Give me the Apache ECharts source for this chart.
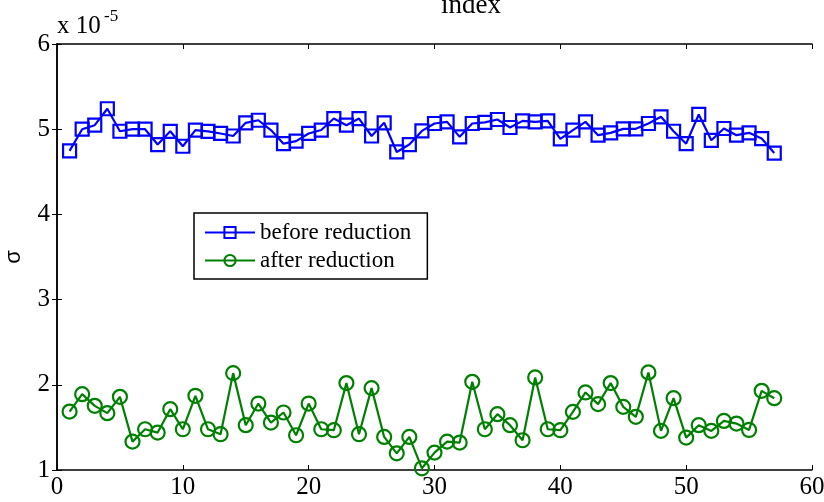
<!DOCTYPE html>
<html>
<head>
<meta charset="utf-8">
<script src="https://cdn.jsdelivr.net/npm/echarts@6/dist/echarts.min.js"></script>
<style>
  html, body { margin: 0; padding: 0; background: #fff; }
  #chart { width: 824px; height: 502px; }
</style>
</head>
<body>
<div id="chart"></div>
<script>
// Standard deviation per index, in units of 1e-5
const indices = Array.from({ length: 57 }, (_, i) => i + 1);

const beforeReduction = [
  4.745, 5.00, 5.047, 5.24, 4.976, 5.00, 5.00, 4.82, 4.975, 4.80,
  4.99, 4.975, 4.95, 4.92, 5.075, 5.105, 4.99, 4.83, 4.86, 4.95,
  4.99, 5.125, 5.047, 5.125, 4.92, 5.075, 4.733, 4.82, 4.98, 5.067,
  5.086, 4.91, 5.067, 5.08, 5.114, 5.02, 5.098, 5.086, 5.098, 4.886,
  4.99, 5.086, 4.93, 4.957, 5.004, 5.004, 5.067, 5.145, 4.976, 4.83,
  5.173, 4.87, 5.008, 4.93, 4.957, 4.89, 4.72
];

const afterReduction = [
  1.686, 1.89, 1.753, 1.667, 1.859, 1.333, 1.478, 1.439, 1.714, 1.478,
  1.871, 1.478, 1.42, 2.137, 1.526, 1.78, 1.557, 1.675, 1.408, 1.78,
  1.478, 1.467, 2.02, 1.42, 1.961, 1.388, 1.196, 1.388, 1.02, 1.204,
  1.333, 1.322, 2.035, 1.478, 1.655, 1.526, 1.349, 2.086, 1.478, 1.467,
  1.682, 1.91, 1.773, 2.02, 1.741, 1.624, 2.145, 1.459, 1.843, 1.38,
  1.526, 1.459, 1.576, 1.545, 1.47, 1.929, 1.843
];

const xTicks = { min: 0, max: 60, interval: 10 };
const yTicks = { min: 1, max: 6, interval: 1 };

const serif = '"Liberation Serif", "Times New Roman", serif';
const BLUE = '#0000ff';
const GREEN = '#008000';

const chart = echarts.init(document.getElementById('chart'), null, { renderer: 'canvas' });

const pairs = arr => arr.map((v, i) => [indices[i], v]);

const axisLineStyle = { show: true, lineStyle: { color: '#000', width: 1.5 } };
const tickIn = { show: true, inside: true, length: 5, lineStyle: { color: '#000', width: 1 } };

chart.setOption({
  animation: false,
  backgroundColor: '#fff',
  grid: { left: 57, right: 12, top: 44, bottom: 32, containLabel: false, outerBoundsMode: 'none' },
  xAxis: [
    {
      type: 'value', min: xTicks.min, max: xTicks.max, interval: xTicks.interval,
      position: 'bottom',
      axisLine: axisLineStyle, axisTick: tickIn, splitLine: { show: false },
      axisLabel: { color: '#000', fontFamily: serif, fontSize: 25, margin: 5 }
    },
    {
      type: 'value', min: xTicks.min, max: xTicks.max, interval: xTicks.interval,
      position: 'top',
      axisLine: axisLineStyle, axisTick: tickIn, splitLine: { show: false },
      axisLabel: { show: false }
    }
  ],
  yAxis: [
    {
      type: 'value', min: yTicks.min, max: yTicks.max, interval: yTicks.interval,
      position: 'left',
      name: 'σ', nameLocation: 'middle', nameGap: 32, nameRotate: 90,
      nameTextStyle: { color: '#000', fontFamily: '"Liberation Sans", Arial, sans-serif', fontSize: 22 },
      axisLine: axisLineStyle, axisTick: tickIn, splitLine: { show: false },
      axisLabel: { color: '#000', fontFamily: serif, fontSize: 25, margin: 7 }
    },
    {
      type: 'value', min: yTicks.min, max: yTicks.max, interval: yTicks.interval,
      position: 'right',
      axisLine: axisLineStyle, axisTick: tickIn, splitLine: { show: false },
      axisLabel: { show: false }
    }
  ],
  legend: {
    orient: 'vertical',
    left: 194, top: 213,
    padding: [8, 16, 7, 10],
    itemGap: 5,
    itemWidth: 50, itemHeight: 14,
    backgroundColor: '#fff',
    borderColor: '#000', borderWidth: 1.5, borderRadius: 0,
    textStyle: { color: '#000', fontFamily: serif, fontSize: 23 },
    data: ['before reduction', 'after reduction']
  },
  series: [
    {
      name: 'before reduction', type: 'line',
      data: pairs(beforeReduction),
      symbol: 'rect', symbolSize: 13, showAllSymbol: true,
      lineStyle: { color: BLUE, width: 2.2 },
      itemStyle: { color: 'rgba(0,0,0,0)', borderColor: BLUE, borderWidth: 2.2 }
    },
    {
      name: 'after reduction', type: 'line',
      data: pairs(afterReduction),
      symbol: 'circle', symbolSize: 14, showAllSymbol: true,
      lineStyle: { color: GREEN, width: 2.2 },
      itemStyle: { color: 'rgba(0,0,0,0)', borderColor: GREEN, borderWidth: 2.2 }
    }
  ],
  graphic: [
    {
      type: 'text', left: 441, top: -8,
      style: { text: 'index', fontFamily: serif, fontSize: 27, fill: '#000' }
    },
    {
      type: 'text', left: 57, top: 14,
      style: { text: 'x 10', fontFamily: serif, fontSize: 25, fill: '#000' }
    },
    {
      type: 'text', left: 104, top: 8,
      style: { text: '-5', fontFamily: serif, fontSize: 17, fill: '#000' }
    }
  ]
});
</script>
</body>
</html>
